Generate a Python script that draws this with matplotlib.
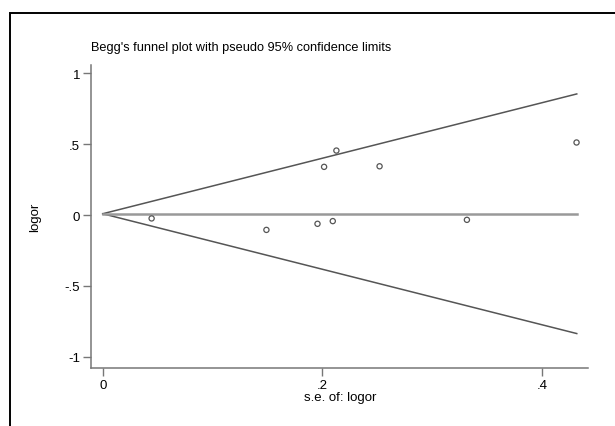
import numpy as np
import matplotlib.pyplot as plt
from matplotlib.patches import Rectangle

# estudos: erro padrão e log odds ratio
se_logor = [0.0445, 0.149, 0.1955, 0.2015, 0.2094, 0.2127, 0.252, 0.3315, 0.4313]
logor = [-0.023, -0.104, -0.061, 0.341, -0.042, 0.456, 0.345, -0.033, 0.513]

pooled = 0.01
se_max = 0.4315

x_ticks = [0, 0.2, 0.4]
x_labels = ['0', '.2', '.4']
y_ticks = [1, 0.5, 0, -0.5, -1]
y_labels = ['1', '.5', '0', '-.5', '-1']

plt.rcParams['font.family'] = ['Liberation Sans', 'DejaVu Sans']

W, H = 615, 427
fig = plt.figure(figsize=(W / 100, H / 100), dpi=100)

# moldura externa (sai pela direita e por baixo)
fig.patches.append(Rectangle((10 / W, -0.1), 1.2, 1 - 14 / H + 0.1,
                             transform=fig.transFigure, fill=False,
                             edgecolor='black', linewidth=1.4))

ax = fig.add_axes([91.3 / W, 1 - 369.3 / H, (588.3 - 91.3) / W, (369.3 - 66) / H])

# limites de confiança pseudo 95%
s = np.array([0, se_max])
ax.plot(s, pooled + 1.96 * s, color='#555555', lw=1.1)
ax.plot(s, pooled - 1.96 * s, color='#555555', lw=1.1)
ax.plot(s, [pooled, pooled], color='#999999', lw=1.8)

ax.scatter(se_logor, logor, s=14, facecolors='none', edgecolors='#555555', linewidths=0.9, zorder=3)

ax.set_xlim(-0.0104, 0.442)
ax.set_ylim(-1.081, 1.06)
ax.set_xticks(x_ticks)
ax.set_xticklabels(x_labels)
ax.set_yticks(y_ticks)
ax.set_yticklabels(y_labels)

for side in ['top', 'right']:
    ax.spines[side].set_visible(False)
for side in ['left', 'bottom']:
    ax.spines[side].set_color('#777777')
    ax.spines[side].set_linewidth(1.1)
ax.tick_params(direction='out', length=6, width=1, color='#777777', labelsize=9.5, pad=2)

ax.set_xlabel('s.e. of: logor', fontsize=9.5, labelpad=0)
ax.set_ylabel('logor', fontsize=9.5, labelpad=17)
ax.set_title("Begg's funnel plot with pseudo 95% confidence limits", loc='left', fontsize=9.2, pad=11)

plt.savefig('out.png', dpi=100)
plt.close()
